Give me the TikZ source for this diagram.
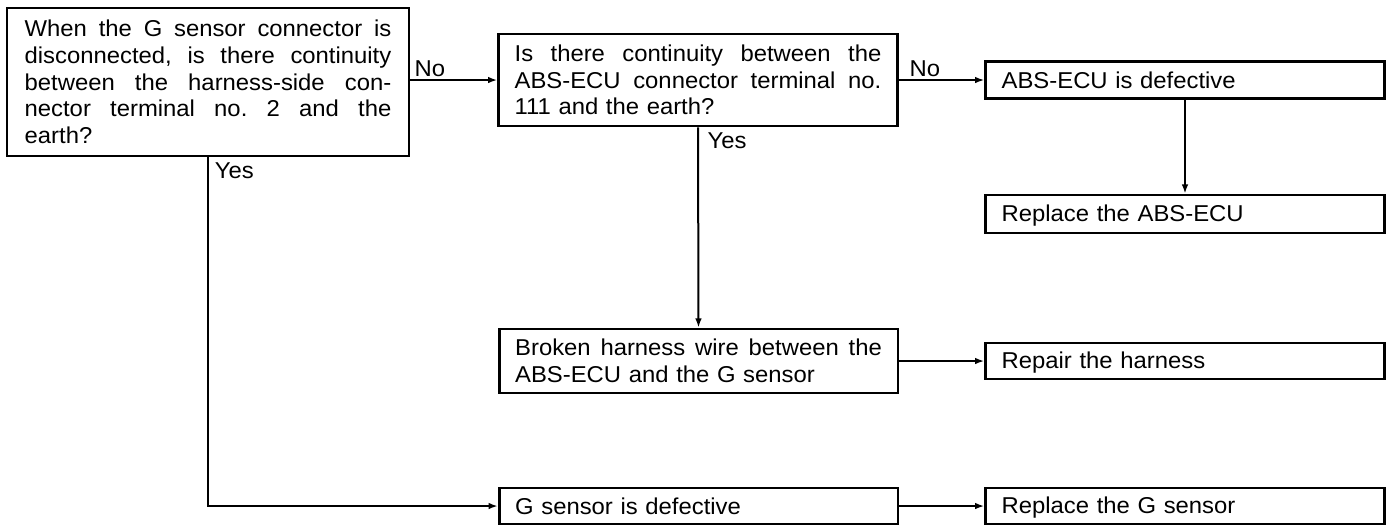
\documentclass[tikz,border=0pt]{standalone}
\usepackage{fontspec}
\setmainfont[FakeStretch=1.04]{Liberation Sans}
\usetikzlibrary{arrows.meta}
\setlength{\parindent}{0pt}
\frenchspacing
\newcommand{\jline}[1]{\makebox[275pt][s]{\spaceskip=0.278em plus 1fil\relax #1}}
\newcommand{\bstrut}{\rule[-3pt]{0pt}{18pt}}
\begin{document}
\begin{tikzpicture}[x=0.75pt, y=-0.75pt,
  font=\fontsize{17.2pt}{20pt}\selectfont,
  box/.style={draw, line width=2pt, inner xsep=12pt, inner ysep=0pt,
              text width=275pt, align=left, minimum width=298.5pt,
              execute at begin node=\bstrut, execute at end node=\bstrut},
  conn/.style={line width=1.5pt, -{Latex[length=7pt,width=5pt]}},
  lbl/.style={inner sep=1pt}]
\fill[white] (0,0) rectangle (1391,526);
\useasboundingbox (0,0) rectangle (1391,526);

\node[box, minimum width=301.5pt, minimum height=111pt] (A) at (208,82) {%
\jline{When the G sensor connector is}\\
\jline{disconnected, is there continuity}\\
\jline{between the harness-side con-}\\
\jline{nector terminal no. 2 and the}\\
earth?};

\node[box, minimum height=69pt] (B) at (698,80) {%
\jline{Is there continuity between the}\\
\jline{ABS-ECU connector terminal no.}\\
111 and the earth?};

\node[box, minimum height=27.75pt] (C) at (1185,80) {ABS-ECU is defective};
\node[box, minimum height=28.5pt] (D) at (1185,214) {Replace the ABS-ECU};

\node[box, minimum height=48pt] (E) at (698.5,361) {%
\jline{Broken harness wire between the}\\
ABS-ECU and the G sensor};
\node[box, minimum height=27pt] (F) at (1185,361) {Repair the harness};

\node[box, minimum height=27pt] (G) at (698.5,506) {G sensor is defective};
\node[box, minimum height=27pt] (H) at (1185,506) {Replace the G sensor};

\draw[conn] (A.east |- B.west) -- (B.west);
\draw[conn] (B.east) -- (C.west);
\draw[conn] (C.south) -- (D.north);
\draw[conn] (B.south) -- (E.north);
\draw[conn] (E.east) -- (F.west);
\draw[conn] (A.south) |- (G.west);
\draw[conn] (G.east) -- (H.west);

\path (A.east |- B.west) node[lbl, anchor=south west, xshift=2pt, yshift=1pt] (noA) {No};
\path (B.east) node[lbl, anchor=south west, xshift=7pt, yshift=1pt] (noB) {No};
\path (A.south) node[lbl, anchor=north west, xshift=4pt, yshift=-3pt] (yesA) {Yes};
\path (B.south) node[lbl, anchor=north west, xshift=6pt, yshift=-3pt] (yesB) {Yes};
\end{tikzpicture}
\end{document}
